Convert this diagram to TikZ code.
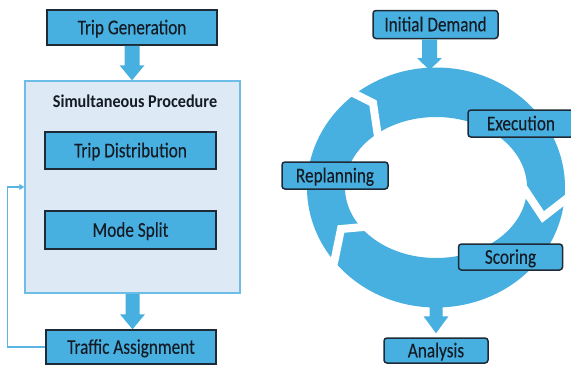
\documentclass[tikz,border=0pt]{standalone}
\usepackage{fontspec}
\setmainfont{Carlito}
\newfontfamily\labelfont[FakeStretch=0.82,FakeBold=0.12]{Carlito}
\newfontfamily\titlefont[FakeStretch=0.9]{Carlito}
\usetikzlibrary{arrows.meta,calc}

\definecolor{cycleblue}{HTML}{47B0E0}
\definecolor{boxline}{HTML}{1E2A36}
\definecolor{labeltext}{HTML}{141B24}
\definecolor{procfill}{HTML}{DDEAF6}
\definecolor{procline}{HTML}{6CBDE8}
\definecolor{loopline}{HTML}{5BB5E2}

% filled block arrow pointing down: start, tip, shaft half width, head half width, head length
\newcommand{\blockarrow}[5]{%
  \fill[cycleblue] ($(#1)+(-#3,0)$) -- ($(#2)+(-#3,-#5)$) -- ($(#2)+(-#4,-#5)$)
    -- (#2) -- ($(#2)+(#4,-#5)$) -- ($(#2)+(#3,-#5)$) -- ($(#1)+(#3,0)$) -- cycle;}

\begin{document}
\begin{tikzpicture}[x=1pt,y=-1pt,
  lbox/.style={draw=boxline, line width=1.5pt, fill=cycleblue, text=labeltext,
    font=\labelfont\fontsize{21}{24}\selectfont, inner sep=0pt,
    text height=13.5pt, text depth=0pt},
  rbox/.style={lbox, rounded corners=3pt},
  procbox/.style={draw=procline, line width=1.5pt, fill=procfill, inner sep=0pt},
  titletext/.style={text=labeltext, font=\titlefont\bfseries\fontsize{18}{20}\selectfont,
    inner sep=0pt, text height=11.6pt, text depth=0pt},
  gapline/.style={draw=white, line width=8pt, line join=miter},
  feedback/.style={draw=loopline, line width=1.3pt, -{Triangle[length=5pt,width=6pt]}}
]
\useasboundingbox (0,0) rectangle (571,365);
\clip (0,0) rectangle (571,365);
\fill[white] (0,0) rectangle (571,365);

% ---------- sequential four-step model ----------
\node[procbox, minimum width=215pt, minimum height=212pt] (sp) at (132.5,187) {};
\node[titletext] (spt) at (135,101.5) {Simultaneous Procedure};

\node[lbox, minimum width=170pt, minimum height=35pt] (tg) at (132,27.5) {Trip Generation};
\node[lbox, minimum width=171pt, minimum height=37pt] (td) at (130.5,150.5) {Trip Distribution};
\node[lbox, minimum width=171pt, minimum height=38pt] (ms) at (130.5,230) {Mode Split};
\node[lbox, minimum width=170pt, minimum height=34pt] (ta) at (131,347) {Traffic Assignment};

\coordinate (a1s) at (tg.south);
\coordinate (a1e) at (tg.south |- sp.north);
\blockarrow{a1s}{a1e}{7.5}{12.5}{15}
\coordinate (a2s) at (sp.south);
\coordinate (a2e) at (sp.south |- ta.north);
\blockarrow{a2s}{a2e}{7}{12.5}{15}

\draw[feedback] (ta.west) -- ($(ta.west)+(-38,0)$) |- (sp.west);

% ---------- iterative cycle ----------
\coordinate (rc) at (436,187.5);
\fill[cycleblue, even odd rule]
  (rc) ellipse [x radius=129pt, y radius=120pt]
  (rc) ellipse [x radius=91pt, y radius=70.5pt];

% chevron-shaped breaks between the cycle segments
\draw[gapline] (351.6,92.3) -- (373,103) -- (377.9,135.9);
\draw[gapline] (523.7,188) -- (543,217) -- (569.7,196.3);
\draw[gapline] (333.8,263.9) -- (341,229) -- (369,226.5);

\node[rbox, minimum width=125pt, minimum height=28pt] (id) at (435.5,24.5) {Initial Demand};
\node[rbox, minimum width=106pt, minimum height=27pt] (ex) at (521,123.5) {Execution};
\node[rbox, minimum width=106pt, minimum height=27pt] (rp) at (335,175.5) {Replanning};
\node[rbox, minimum width=104pt, minimum height=26pt] (sc) at (510.5,257) {Scoring};
\node[rbox, minimum width=104pt, minimum height=25pt] (an) at (436,350.5) {Analysis};

\coordinate (a3s) at ($(id.south)+(-6,0)$);
\coordinate (a3e) at (429.5,70);
\blockarrow{a3s}{a3e}{7.5}{12.5}{12}
\coordinate (a4s) at (436,300);
\coordinate (a4e) at ($(an.north)+(0,-4)$);
\blockarrow{a4s}{a4e}{6.5}{12.5}{17}
\end{tikzpicture}
\end{document}
